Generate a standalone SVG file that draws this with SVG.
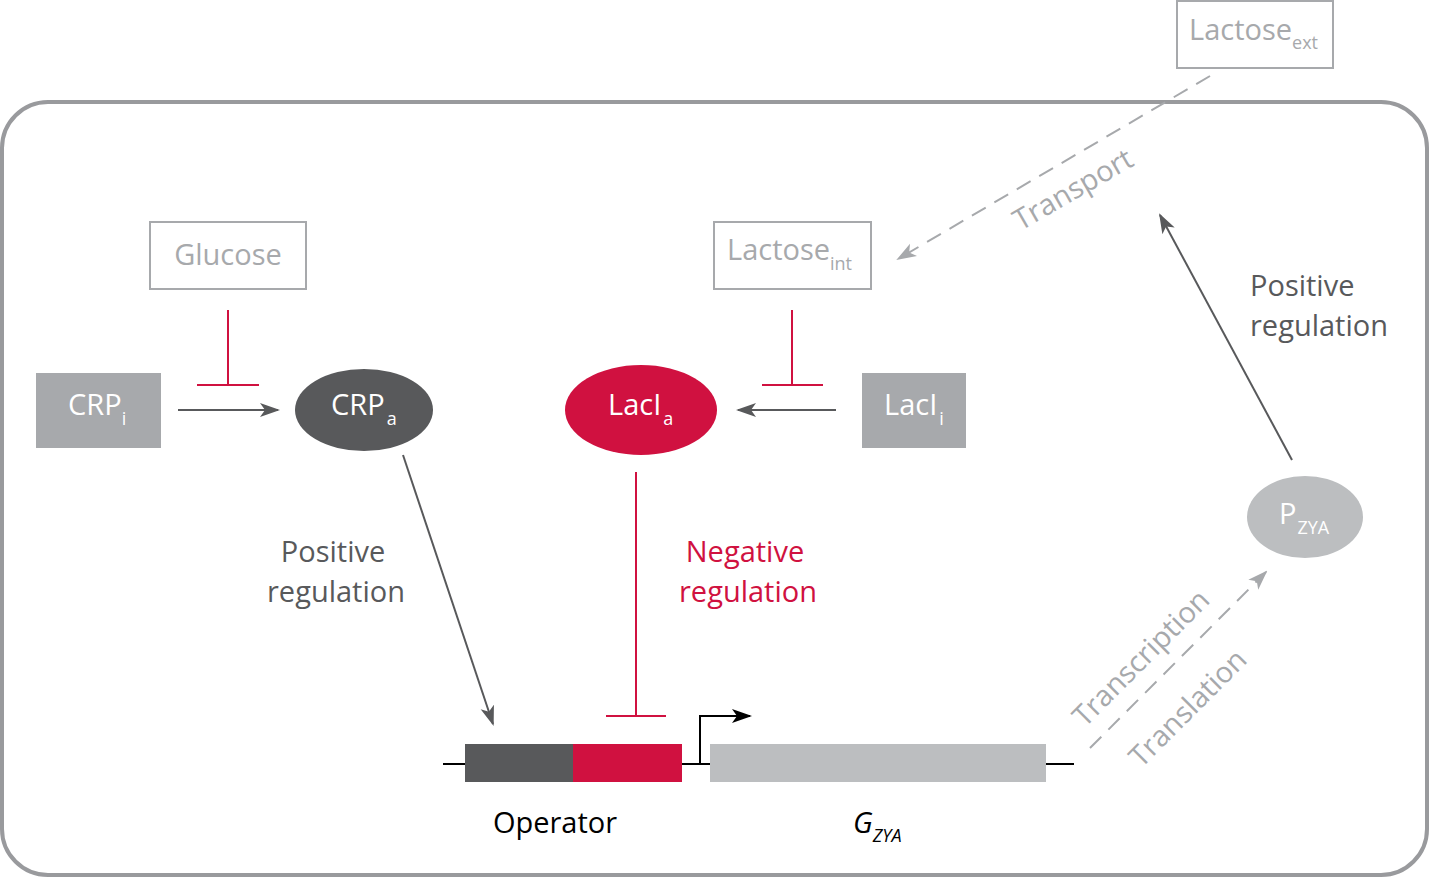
<svg xmlns="http://www.w3.org/2000/svg" width="1430" height="878" viewBox="0 0 1430 878">
<style>
text{font-family:"Open Sans","Noto Sans","Liberation Sans",sans-serif;}
.t30{font-size:29px;}
.sub{font-size:18px;}
.w{fill:#ffffff;}
.g{fill:#a7a9ac;}
.dk{fill:#58595b;}
.rd{fill:#d01140;}
.box{fill:#ffffff;stroke:#a7a9ac;stroke-width:2;}
.ln{stroke:#58595b;stroke-width:2;fill:none;}
.inh{stroke:#d01140;stroke-width:2;fill:none;}
.dash{stroke:#a7a9ac;stroke-width:2;fill:none;stroke-dasharray:16 10;}
</style>
<defs>
<marker id="ad" markerUnits="userSpaceOnUse" markerWidth="20" markerHeight="16" refX="18" refY="8" orient="auto">
<path d="M0,1 L20,8 L0,15 L5,8 z" fill="#58595b"/>
</marker>
<marker id="ag" markerUnits="userSpaceOnUse" markerWidth="20" markerHeight="16" refX="18" refY="8" orient="auto">
<path d="M0,1 L20,8 L0,15 L5,8 z" fill="#a7a9ac"/>
</marker>
<marker id="ab" markerUnits="userSpaceOnUse" markerWidth="20" markerHeight="16" refX="18" refY="8" orient="auto">
<path d="M0,1 L20,8 L0,15 L5,8 z" fill="#000000"/>
</marker>
</defs>

<g id="cell">
<rect x="2" y="102" width="1425" height="773" rx="46" ry="46" fill="none" stroke="#999a9d" stroke-width="4"/>
</g>

<g id="connectors">
<line class="ln" x1="178" y1="410" x2="278" y2="410" marker-end="url(#ad)"/>
<line class="ln" x1="836" y1="410" x2="738" y2="410" marker-end="url(#ad)"/>
<path class="inh" d="M228,310 V385 M197,385 H259"/>
<path class="inh" d="M792,310 V385 M762,385 H823"/>
<line class="ln" x1="403" y1="455" x2="493" y2="724" marker-end="url(#ad)"/>
<path class="inh" d="M636,472 V716 M606,716 H666"/>
<line class="ln" x1="1292" y1="460" x2="1160" y2="215" marker-end="url(#ad)"/>
<line class="dash" x1="1210" y1="76" x2="898" y2="259" marker-end="url(#ag)"/>
<line class="dash" x1="1090" y1="748" x2="1266" y2="572" marker-end="url(#ag)"/>
<path d="M700,764 V716 H750" fill="none" stroke="#000" stroke-width="2" marker-end="url(#ab)"/>
</g>

<g id="dna">
<line x1="443" y1="764" x2="1074" y2="764" stroke="#000" stroke-width="2"/>
<rect x="465" y="744" width="108" height="38" fill="#58595b"/>
<rect x="573" y="744" width="109" height="38" fill="#d01140"/>
<rect x="710" y="744" width="336" height="38" fill="#bcbec0"/>
<text x="555" y="833" class="t30" text-anchor="middle" fill="#000">Operator</text>
<text x="853" y="833" class="t30" font-style="italic" fill="#000">G<tspan class="sub" dy="9" font-style="italic">ZYA</tspan></text>
</g>

<g id="lactose-ext">
<rect class="box" x="1177" y="1" width="156" height="67"/>
<text x="1189" y="40" class="t30 g">Lactose<tspan class="sub" dy="9">ext</tspan></text>
</g>

<g id="glucose">
<rect class="box" x="150" y="222" width="156" height="67"/>
<text x="228" y="265" class="t30 g" text-anchor="middle">Glucose</text>
</g>

<g id="lactose-int">
<rect class="box" x="714" y="222" width="157" height="67"/>
<text x="727" y="260" class="t30 g">Lactose<tspan class="sub" dy="10">int</tspan></text>
</g>

<g id="crp-i">
<rect x="36" y="373" width="125" height="75" fill="#a7a9ac"/>
<text x="68" y="415" class="t30 w">CRP<tspan class="sub" dy="10">i</tspan></text>
</g>

<g id="crp-a">
<ellipse cx="364" cy="410" rx="69" ry="41" fill="#58595b"/>
<text x="331" y="415" class="t30 w">CRP<tspan class="sub" dx="2" dy="10">a</tspan></text>
</g>

<g id="laci-a">
<ellipse cx="641" cy="410" rx="76" ry="45" fill="#d01140"/>
<text x="608" y="415" class="t30 w">LacI<tspan class="sub" dx="2" dy="10">a</tspan></text>
</g>

<g id="laci-i">
<rect x="862" y="373" width="104" height="75" fill="#a7a9ac"/>
<text x="884" y="415" class="t30 w">LacI<tspan class="sub" dx="2" dy="10">i</tspan></text>
</g>

<g id="p-zya">
<ellipse cx="1305" cy="517" rx="58" ry="41" fill="#bcbec0"/>
<text x="1279" y="524" class="t30 w">P<tspan class="sub" dx="1" dy="10">ZYA</tspan></text>
</g>

<g id="labels">
<text x="333" y="562" class="t30 dk" text-anchor="middle">Positive</text>
<text x="336" y="602" class="t30 dk" text-anchor="middle">regulation</text>
<text x="745" y="562" class="t30 rd" text-anchor="middle">Negative</text>
<text x="748" y="602" class="t30 rd" text-anchor="middle">regulation</text>
<text x="1250" y="296" class="t30 dk">Positive</text>
<text x="1250" y="336" class="t30 dk">regulation</text>
<text class="t30 g" text-anchor="middle" transform="translate(1078,198) rotate(-30)">Transport</text>
<text class="t30 g" text-anchor="middle" transform="translate(1148,665) rotate(-45)">Transcription</text>
<text class="t30 g" text-anchor="middle" transform="translate(1195,715) rotate(-45)">Translation</text>
</g>
</svg>
